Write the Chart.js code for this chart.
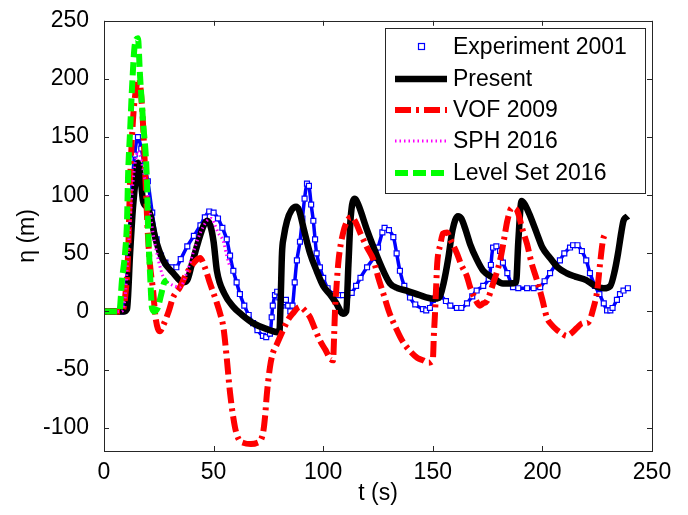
<!DOCTYPE html>
<html>
<head>
<meta charset="utf-8">
<script src="https://cdn.jsdelivr.net/npm/chart.js@4.4.1/dist/chart.umd.min.js"></script>
<style>
  html, body { margin: 0; padding: 0; background: #fff; }
  #wrap { width: 688px; height: 515px; }
</style>
</head>
<body>
<div id="wrap"><canvas id="etaChart" width="688" height="515"></canvas></div>
<script>
// Axis ticks
const xTicks = [0, 50, 100, 150, 200, 250];
const yTicks = [-100, -50, 0, 50, 100, 150, 200, 250];

// Experiment 2001
const expT = [0, 4, 8, 9.5, 11, 12.5, 14, 15.5, 17, 18.5, 20, 22, 24, 26, 28, 31, 33, 35, 38, 41, 44, 46, 48, 50, 52, 54, 56, 57.5, 59, 60.5, 62, 64, 66, 68, 70, 72.5, 74, 75.7, 76.5, 77, 78, 79, 80, 81, 82, 83, 84, 85, 86, 87, 88, 89.4, 90.5, 91.5, 92.6, 93.5, 94.5, 95.5, 96.3, 97, 98.5, 100, 102, 104.5, 107, 109, 111, 113, 115, 117, 120, 123, 125, 127, 128, 130, 132, 133.5, 135, 137, 139.6, 142, 145.5, 147, 148.7, 150, 152, 153.5, 156, 158, 161, 163, 165.6, 168, 170, 173, 175.5, 176.5, 177.5, 179, 180.7, 182, 184, 186.6, 189, 193, 196, 199, 201, 203.5, 206, 208, 210, 212.6, 214, 216, 218, 220, 221.7, 224, 226, 228, 229.5, 231, 232, 234, 235.4, 237, 239];
const expEta = [0, 0, 0, 10, 50, 100, 135, 150, 140, 125, 112, 85, 62, 48, 42, 38, 38, 45, 56, 65, 74, 81, 86, 85, 80, 72, 62, 48, 35, 25, 15, 5, -3, -10, -16, -21, -22, -19, -5, 5, 14, 17, 12, 5, 8, 10, 5, 0, 5, 25, 44, 60, 80, 97, 110, 108, 92, 78, 62, 50, 38, 29, 20, 15, 14, 14, 14, 16, 22, 29, 38, 46, 55, 68, 72, 70, 64, 50, 35, 22, 12, 6, 2, 1, 3, 10, 18, 14, 9, 5, 3, 3, 7, 13, 18, 22, 28, 40, 55, 56, 52, 42, 33, 21, 20, 20, 20, 21, 26, 33, 40, 44, 50, 55, 57, 57, 52, 44, 33, 22, 15, 7, 1, 1, 3, 10, 15, 18, 20];

// Present
const presentT = [0, 9, 10.5, 11.9, 13.2, 14.5, 15.5, 16.5, 17.8, 19.5, 21, 23.3, 27, 31.6, 36, 38, 40, 43, 45.5, 47, 48.5, 50, 51.5, 55, 59, 63, 68, 74, 80, 80.6, 81.2, 82, 83.5, 85.5, 87.6, 89, 91, 94, 97, 100, 103, 106, 109, 110.5, 111.5, 112.5, 114.5, 116, 120, 123, 126, 130.5, 134, 138, 144, 150, 153, 155, 157, 159, 161.5, 163, 165, 167, 170, 173, 177.5, 182, 185, 188, 189, 190.5, 192, 194, 197.5, 200, 203.5, 207, 211, 215, 220, 224, 228, 231, 233, 234.5, 236, 237, 239];
const presentEta = [0, 0, 2, 50, 89, 115, 128, 120, 95, 90, 84, 64, 44, 33, 25, 27, 40, 60, 74, 78, 74, 60, 35, 15, 4, -3, -10, -15, -18, 10, 50, 64, 78, 87, 90, 87, 72, 50, 35, 22, 15, 7, -2, 0, 40, 80, 97, 92, 70, 55, 41, 24, 20, 18, 14, 11, 12, 25, 45, 70, 82, 80, 70, 58, 45, 35, 29, 24, 24, 25, 60, 95, 92, 84, 67, 55, 46, 38, 33, 30, 27, 22, 20, 22, 35, 50, 68, 78, 82];

// VOF 2009
const vofT = [0, 8, 9.5, 11, 11.9, 13.2, 14.5, 16, 17, 17.8, 19, 20, 21, 22.4, 23.5, 25.5, 27, 29.5, 31.5, 34.7, 37.5, 40.6, 43.8, 46, 48.4, 51, 53, 54.5, 56, 57.5, 59.8, 61.5, 63.6, 67, 69.8, 72.5, 73.5, 74.3, 75.7, 77, 78.9, 81.7, 84, 86, 89.4, 92, 94, 96, 98.5, 101, 103, 104.5, 105, 105.4, 106.2, 107, 109, 111.3, 113, 115, 117, 120, 123, 125, 127.5, 130, 133.6, 136, 139.6, 143, 145.5, 148, 150, 150.5, 151, 151.5, 152, 153.5, 154.6, 156.5, 158, 161, 163, 165.6, 167, 169, 171.5, 173, 174.7, 177.5, 180.7, 182.5, 184, 186, 188, 189, 191, 193, 195, 197.5, 200, 202, 204, 206.7, 209, 211, 213, 215.8, 218.5, 220, 221.5, 223, 225, 226.3, 227.6, 228.6];
const vofEta = [0, 0, 10, 50, 112, 164, 190, 200, 185, 161, 110, 67, 40, 18, -5, -17, -12, 0, 12, 21, 32, 41, 46, 38, 24, 10, -2, -14, -40, -70, -100, -110, -113, -114, -113, -105, -90, -71, -48, -36, -28, -16, -7, -2, 4, 0, -5, -14, -25, -33, -40, -42, -20, 1, 25, 44, 67, 79, 81, 76, 67, 55, 44, 30, 15, 0, -16, -25, -34, -40, -42, -44, -42, -20, -2, 20, 41, 58, 67, 68, 62, 50, 40, 30, 21, 12, 5, 7, 9, 24, 44, 62, 78, 89, 88, 84, 70, 58, 42, 27, 10, -5, -11, -16, -19, -21, -19, -14, -10, -10, -8, 1, 18, 41, 61, 67];

// SPH 2016
const sphT = [0, 8, 9.5, 11, 12.5, 14, 15.5, 17, 18.5, 20, 22.4, 24.8, 27, 30, 34.7, 37.5, 40.6, 44, 47, 49, 50.5, 52, 54.5, 56, 57.5];
const sphEta = [0, 0, 10, 50, 95, 125, 138, 130, 115, 100, 67, 44, 30, 24, 21, 32, 50, 68, 78, 80, 75, 68, 60, 48, 38];

// Level Set 2016
const lsT = [0, 7, 8.2, 9.6, 10.5, 11, 11.9, 12.8, 14.1, 15.5, 16.4, 17.8, 19.6, 20.1, 21, 21.9, 23, 24.5, 26, 27.5, 29];
const lsEta = [0, 0, 27, 50, 78, 118, 155, 193, 230, 235, 204, 164, 112, 72, 33, 3, 0, 3, 14, 25, 27];

const FONT = '"Liberation Sans", Arial, Helvetica, sans-serif';

function pts(t, v) {
  return t.map((x, i) => ({ x: x, y: v[i] }));
}

const datasets = [
  {
    label: 'Experiment 2001',
    data: pts(expT, expEta),
    showLine: true,
    borderColor: '#0000ff',
    borderWidth: 3.5,
    pointStyle: 'rect',
    pointRadius: 3.5,
    pointBorderWidth: 1.2,
    pointBorderColor: '#0000ff',
    pointBackgroundColor: '#ffffff',
    tension: 0.3,
    order: 5
  },
  {
    label: 'Present',
    data: pts(presentT, presentEta),
    showLine: true,
    borderColor: '#000000',
    borderWidth: 6.5,
    pointRadius: 0,
    cubicInterpolationMode: 'monotone',
    order: 4
  },
  {
    label: 'VOF 2009',
    data: pts(vofT, vofEta),
    showLine: true,
    borderColor: '#ff0000',
    borderWidth: 6,
    borderDash: [16, 5, 3, 5],
    pointRadius: 0,
    cubicInterpolationMode: 'monotone',
    order: 3
  },
  {
    label: 'SPH 2016',
    data: pts(sphT, sphEta),
    showLine: true,
    borderColor: '#ff00ff',
    borderWidth: 3,
    borderDash: [1.5, 3],
    pointRadius: 0,
    cubicInterpolationMode: 'monotone',
    order: 2
  },
  {
    label: 'Level Set 2016',
    data: pts(lsT, lsEta),
    showLine: true,
    borderColor: '#00ff00',
    borderWidth: 6,
    borderDash: [13, 5],
    pointRadius: 0,
    cubicInterpolationMode: 'monotone',
    order: 1
  }
];

// frame, inward ticks and boxed legend (MATLAB look)
const framePlugin = {
  id: 'frame',
  afterDatasetsDraw(chart) {
    const ctx = chart.ctx;
    const a = chart.chartArea;
    const xs = chart.scales.x, ys = chart.scales.y;
    ctx.save();
    ctx.strokeStyle = '#262626';
    ctx.lineWidth = 1;
    ctx.strokeRect(Math.round(a.left) + 0.5, Math.round(a.top) + 0.5, Math.round(a.right - a.left), Math.round(a.bottom - a.top));
    ctx.beginPath();
    xTicks.forEach(v => {
      const px = Math.round(xs.getPixelForValue(v)) + 0.5;
      ctx.moveTo(px, a.bottom); ctx.lineTo(px, a.bottom - 5);
      ctx.moveTo(px, a.top); ctx.lineTo(px, a.top + 5);
    });
    yTicks.forEach(v => {
      const py = Math.round(ys.getPixelForValue(v)) + 0.5;
      ctx.moveTo(a.left, py); ctx.lineTo(a.left + 5, py);
      ctx.moveTo(a.right, py); ctx.lineTo(a.right - 5, py);
    });
    ctx.stroke();

    // legend box
    const lx = 385, ly = 28, lw = 260, lh = 165;
    ctx.fillStyle = '#fff';
    ctx.fillRect(lx, ly, lw, lh);
    ctx.strokeRect(lx + 0.5, ly + 0.5, lw, lh);
    const rows = [47, 79, 110, 141, 173];
    ctx.font = '23px ' + FONT;
    ctx.textBaseline = 'middle';
    chart.data.datasets.forEach((ds, i) => {
      const y = rows[i];
      if (ds.pointStyle === 'rect') {
        ctx.strokeStyle = ds.pointBorderColor;
        ctx.lineWidth = 1.2;
        ctx.strokeRect(418.5, y - 3.5, 6, 6);
      } else {
        ctx.strokeStyle = ds.borderColor;
        ctx.lineWidth = ds.borderWidth;
        ctx.setLineDash(ds.borderDash || []);
        ctx.beginPath();
        ctx.moveTo(395, y); ctx.lineTo(447, y);
        ctx.stroke();
        ctx.setLineDash([]);
      }
      ctx.fillStyle = '#000';
      ctx.fillText(ds.label, 453, y + 1);
    });
    ctx.restore();
  }
};

const ctx = document.getElementById('etaChart').getContext('2d');
const chart = new Chart(ctx, {
  type: 'scatter',
  data: { datasets: datasets },
  options: {
    responsive: false,
    animation: false,
    events: [],
    layout: { padding: { left: 0, top: 20, right: 36, bottom: 0 } },
    plugins: {
      legend: { display: false },
      tooltip: { enabled: false }
    },
    scales: {
      x: {
        type: 'linear',
        min: 0,
        max: 250,
        afterBuildTicks: s => { s.ticks = xTicks.map(v => ({ value: v })); },
        afterFit: s => { s.height = 64; },
        grid: { display: false },
        border: { display: false },
        ticks: { color: '#000', padding: 0, maxRotation: 0, font: { family: FONT, size: 23 } },
        title: { display: true, text: 't (s)', color: '#000', padding: { top: 0, bottom: 8 }, font: { family: FONT, size: 23 } }
      },
      y: {
        type: 'linear',
        min: -120,
        max: 250,
        afterBuildTicks: s => { s.ticks = yTicks.map(v => ({ value: v })); },
        afterFit: s => { s.width = 104; },
        grid: { display: false },
        border: { display: false },
        ticks: { color: '#000', padding: 7, font: { family: FONT, size: 23 } },
        title: { display: true, text: 'η (m)', color: '#000', padding: { top: 14, bottom: 0 }, font: { family: FONT, size: 23 } }
      }
    }
  },
  plugins: [framePlugin]
});
</script>
</body>
</html>
